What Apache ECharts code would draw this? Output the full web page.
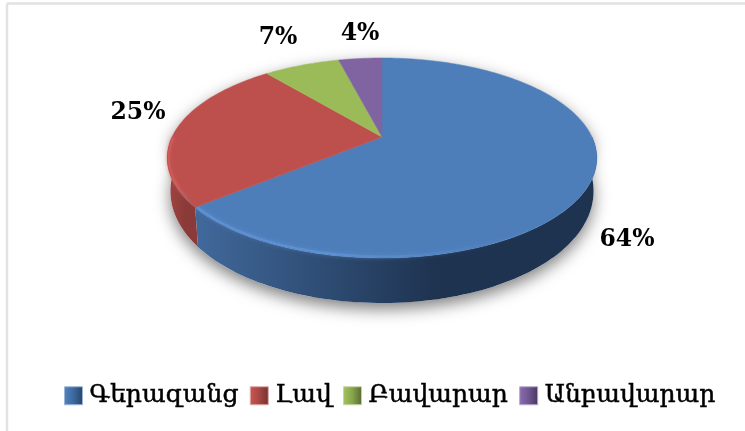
<!DOCTYPE html>
<html><head><meta charset="utf-8">
<style>html,body{margin:0;padding:0;background:#fff}#c{width:745px;height:431px}</style>
<script src="https://cdn.jsdelivr.net/npm/echarts@6/dist/echarts.min.js"></script>
</head><body><div id="c"></div>
<script>
const categories = ['Գերազանց', 'Լավ', 'Բավարար', 'Անբավարար'];
const values = [64, 25, 7, 4];
const tickLabels = ['64%', '25%', '7%', '4%'];
const faceColors = ['#4d7eba', '#bd4f4c', '#9bbb59', '#8064a2'];
const rimColors = ['#5f93d6', '#d25c58', '#b4d56c', '#9a7cc0'];
const sideLight = ['#41699c', '#a04543', '#7f9a48', '#6a5388'];
const sideDark = ['#1e3350', '#8a3a38', '#6b823c', '#58456f'];
const legendColors = [['#5384c2','#3c689f','#264468','#9db6d6'],['#cc5652','#a84643','#6f3230','#d8a9a8'],['#a4c660','#86a34c','#56692f','#c5d6a2'],['#8b6db0','#6e5690','#48385e','#b8a8cc']];
const labelPos = [[627,240],[138,113],[278,38],[360,34]];

const geo = {cx:382, y0:137, a:210, h:95.6, k:0.21};
const total = values.reduce((s,v)=>s+v,0);
function topPt(t){const r=t*Math.PI/180,u=Math.sin(r),v=Math.cos(r),d=1+geo.k*v;
  return [geo.cx+geo.a*u/d, geo.y0-geo.h*v/d];}
function botPt(t){const r=t*Math.PI/180,u=Math.sin(r),v=Math.cos(r),d=1+geo.k*v;
  return [geo.cx+geo.a*0.985*u/d, geo.y0-geo.h*v/d+30-15*v];}
function arc(fn,a,b){const n=Math.max(2,Math.ceil(Math.abs(b-a)/1.5));const p=[];
  for(let i=0;i<=n;i++)p.push(fn(a+(b-a)*i/n));return p;}

function renderSlice(idx){return function(){
  const start=values.slice(0,idx).reduce((s,v)=>s+v,0)/total*360;
  const end=start+values[idx]/total*360;
  const kids=[];
  if(idx===0){
    const sil=arc(topPt,-90,90).concat(arc(botPt,90,270));
    kids.push({type:'polygon',shape:{points:sil},style:{fill:'#fff',shadowBlur:16,shadowColor:'rgba(0,0,0,0.5)',shadowOffsetY:6}});
  }
  const s=Math.max(start,90),e=Math.min(end,270);
  if(e>s){
    kids.push({type:'polygon',shape:{points:arc(topPt,s,e).concat(arc(botPt,e,s))},
      style:{fill:{type:'linear',x:1,y:0,x2:0,y2:0,colorStops:[
        {offset:0,color:sideDark[idx]},{offset:0.4,color:sideDark[idx]},{offset:1,color:sideLight[idx]}]}}});
  }
  kids.push({type:'polygon',shape:{points:[[geo.cx,geo.y0]].concat(arc(topPt,start,end))},
    style:{fill:faceColors[idx],stroke:faceColors[idx],lineWidth:0.5}});
  if(e>s){
    const rim=arc(topPt,s,e).map(p=>[geo.cx+(p[0]-geo.cx)*0.992,158+(p[1]-158)*0.985]);
    kids.push({type:'polyline',shape:{points:rim},
      style:{fill:null,lineWidth:2,opacity:0.85,stroke:{type:'linear',x:1,y:0,x2:0,y2:0,colorStops:[
        {offset:0,color:'rgba(60,100,150,0)'},{offset:0.25,color:'rgba(90,140,205,0.1)'},{offset:0.65,color:rimColors[idx]},{offset:1,color:rimColors[idx]}]},
        shadowBlur:4,shadowColor:rimColors[idx]}});
  }
  const lp=labelPos[idx];
  kids.push({type:'text',x:lp[0],y:lp[1],style:{text:tickLabels[idx],fill:'#000',
    font:'bold 23.5px "DejaVu Serif"',align:'center',verticalAlign:'middle'}});
  return {type:'group',children:kids};
};}

const chart=echarts.init(document.getElementById('c'),null,{renderer:'canvas'});
chart.setOption({
  animation:false,
  backgroundColor:'#fff',
  graphic:[
    {type:'line',shape:{x1:7,y1:3.5,x2:745,y2:3.5},style:{stroke:'#e2e2e2',lineWidth:2.5}},
    {type:'line',shape:{x1:7,y1:3.5,x2:7,y2:431},style:{stroke:'#e2e2e2',lineWidth:2.5}}
  ],
  legend:{
    left:59,top:378,itemWidth:18,itemHeight:18,itemGap:11,
    icon:'rect',
    textStyle:{fontFamily:'"DejaVu Serif"',fontSize:25,color:'#000',textBorderColor:'#000',textBorderWidth:0.5,padding:[0,0,4,2]},
    data:categories.map((n,i)=>({name:n,itemStyle:{borderColor:legendColors[i][3],borderWidth:1,color:{type:'linear',x:0,y:0,x2:1,y2:0,
      colorStops:[{offset:0,color:legendColors[i][0]},{offset:0.5,color:legendColors[i][1]},{offset:1,color:legendColors[i][2]}]}}}))
  },
  series:categories.map((n,i)=>({
    name:n,type:'custom',coordinateSystem:'none',
    itemStyle:{color:faceColors[i]},
    renderItem:renderSlice(i),
    data:[[values[i]]],
    silent:true
  }))
});
</script></body></html>
